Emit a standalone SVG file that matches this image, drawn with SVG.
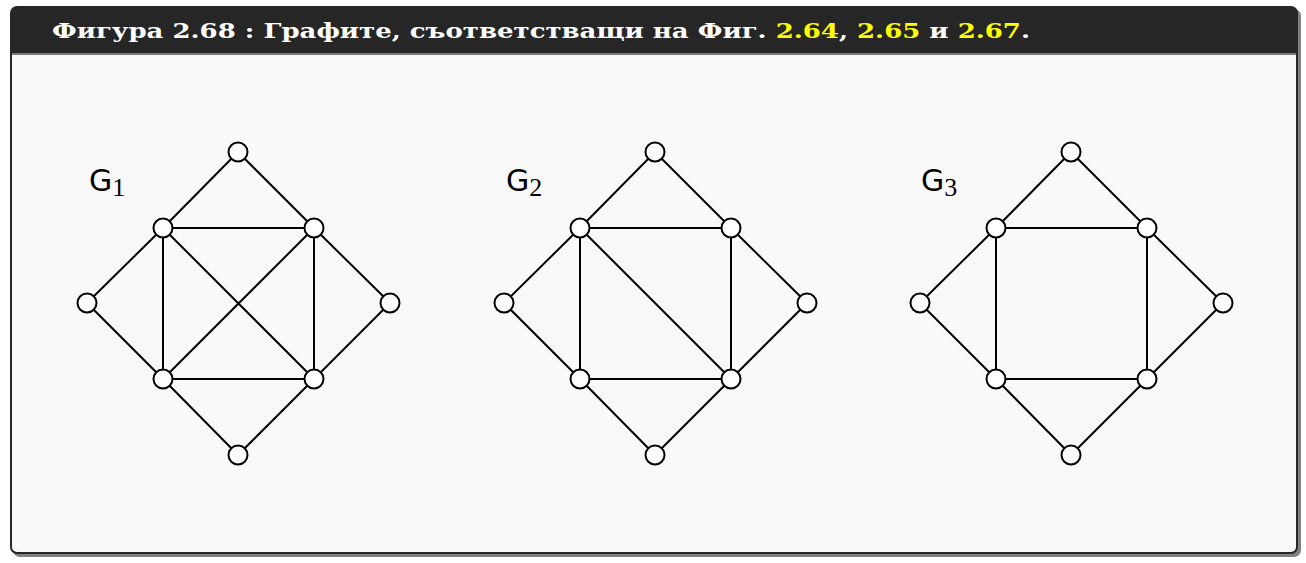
<svg xmlns="http://www.w3.org/2000/svg" width="1306" height="563" viewBox="0 0 1306 563">
<style>
.e{stroke:#000;stroke-width:2;fill:none}
.n{fill:#fff;stroke:#000;stroke-width:2}
.t{font-family:"DejaVu Serif","Liberation Serif",serif;font-weight:bold;font-size:21px;fill:#fff}
.y{fill:#ffff00}
.g{font-family:"DejaVu Sans","Liberation Sans",sans-serif;font-size:30px;fill:#000}
.s{font-family:"Liberation Serif",serif;font-size:26px;fill:#000}
</style>
<defs>
<g id="nodes">
<circle class="n" cx="238" cy="152" r="9.5"/>
<circle class="n" cx="163" cy="228" r="9.5"/>
<circle class="n" cx="314" cy="228" r="9.5"/>
<circle class="n" cx="87" cy="303" r="9.5"/>
<circle class="n" cx="390" cy="303" r="9.5"/>
<circle class="n" cx="163" cy="379" r="9.5"/>
<circle class="n" cx="314" cy="379" r="9.5"/>
<circle class="n" cx="238" cy="455" r="9.5"/>
</g>
<path id="base" class="e" d="M238,152 L163,228 M238,152 L314,228 M163,228 L314,228 M163,228 L87,303 M163,228 L163,379 M314,228 L390,303 M314,228 L314,379 M87,303 L163,379 M390,303 L314,379 M163,379 L314,379 M163,379 L238,455 M314,379 L238,455"/>
</defs>
<rect x="13" y="9" width="1288" height="548" rx="7" fill="#808080"/>
<rect x="10" y="6" width="1288" height="548" rx="7" fill="#262626"/>
<rect x="12" y="55" width="1284" height="497" rx="5" fill="#f9f9f9"/>
<rect x="12" y="53" width="1284" height="2" fill="#7a7a7a"/>
<path d="M12,60 V55 H1296 V60" fill="#f9f9f9"/>
<text class="t" x="52" y="38" textLength="978" lengthAdjust="spacingAndGlyphs">Фигура 2.68 : Графите, съответстващи на Фиг. <tspan class="y">2.64</tspan>, <tspan class="y">2.65</tspan> и <tspan class="y">2.67</tspan>.</text>
<g id="connectors">
<use href="#base"/>
<path class="e" d="M163,228 L314,379 M314,228 L163,379"/>
<use href="#base" transform="translate(417,0)"/>
<path class="e" d="M580,228 L731,379"/>
<use href="#base" transform="translate(833,0)"/>
</g>
<g id="G1"><use href="#nodes"/><text class="g" x="89" y="191">G<tspan class="s" dy="5">1</tspan></text></g>
<g id="G2"><use href="#nodes" transform="translate(417,0)"/><text class="g" x="506" y="191">G<tspan class="s" dy="5">2</tspan></text></g>
<g id="G3"><use href="#nodes" transform="translate(833,0)"/><text class="g" x="921" y="191">G<tspan class="s" dy="5">3</tspan></text></g>
</svg>
